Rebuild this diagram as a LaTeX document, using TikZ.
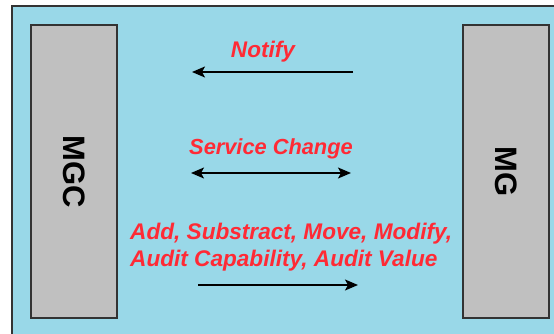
\documentclass[tikz,border=0pt]{standalone}
\usepackage{fontspec}
\setmainfont{Liberation Sans}
\usetikzlibrary{arrows.meta}
\definecolor{panelblue}{HTML}{99D8E8}
\definecolor{boxgray}{HTML}{C0C0C0}
\definecolor{msgred}{HTML}{FF2A35}

\begin{document}
\begin{tikzpicture}[x=1pt,y=1pt]
  \tikzset{entity box/.style={draw=black!80,line width=1.2pt,fill=boxgray,minimum width=86pt,minimum height=293pt,inner sep=0pt},
    entity label/.style={rotate=-90,font=\fontsize{31}{31}\selectfont\bfseries},
    msg text/.style={text=msgred,font=\fontsize{22.6}{27}\selectfont\bfseries\itshape,inner sep=0pt},
    msg arrow/.style={line width=1.5pt,>={Stealth[length=13pt,width=11pt,inset=3pt]}}}

  \useasboundingbox (0,0) rectangle (554,333);
  \draw[fill=panelblue,line width=1.2pt,draw=black!80] (12,327) rectangle (570,-20);

  \node [entity box] (MGC) at (74,161.5) {};
  \node [entity box] (MG) at (506,161.5) {};
  \node [entity label] (MGClabel) at (MGC) {MGC};
  \node [entity label] (MGlabel) at (MG) {MG};

  % messages
  \node [msg text,anchor=base] (notify) at (263,276) {Notify};
  \node [msg text,anchor=base] (svc) at (271,179) {\fontsize{21.8}{27}\selectfont Service Change};
  \node [msg text,anchor=base west,align=left] (cmds) at (130,67) {Add, Substract, Move, Modify,\\Audit Capability, Audit Value};

  \coordinate (n1) at (353,261);
  \coordinate (n2) at (192,261);
  \coordinate (s1) at (191,160);
  \coordinate (s2) at (351,160);
  \coordinate (c1) at (198,48);
  \coordinate (c2) at (358,48);
  \draw [msg arrow,->] (n1) -- (n2);
  \draw [msg arrow,<->] (s1) -- (s2);
  \draw [msg arrow,->] (c1) -- (c2);
\end{tikzpicture}
\end{document}
